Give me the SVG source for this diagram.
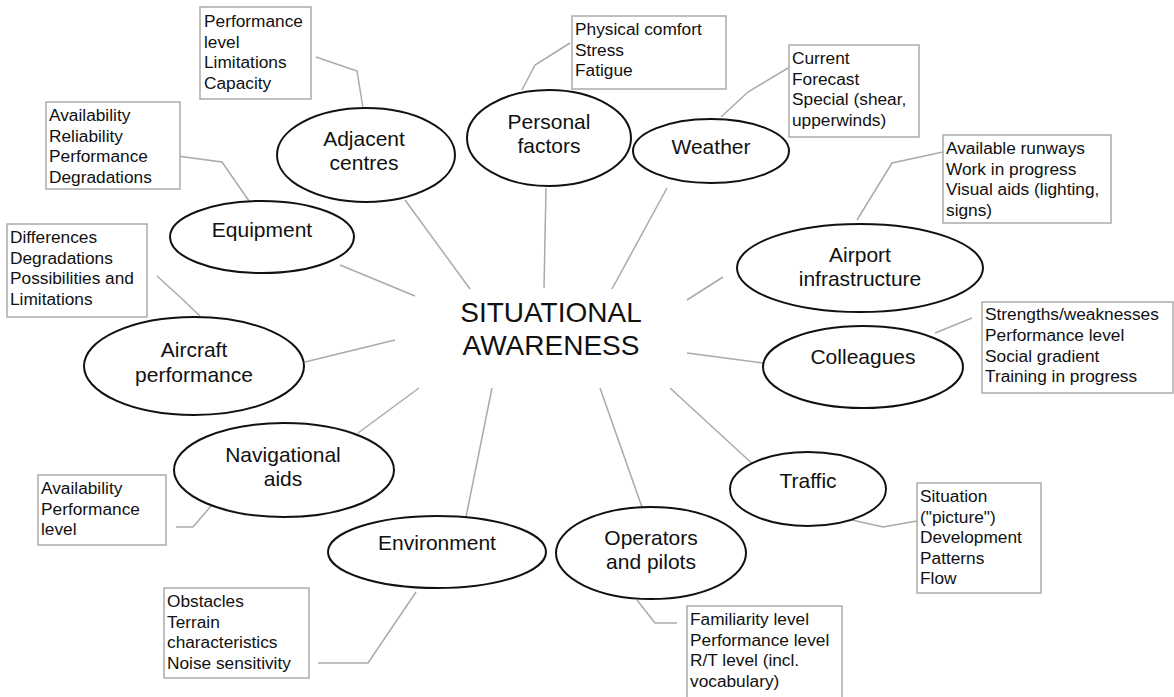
<svg xmlns="http://www.w3.org/2000/svg" width="1174" height="697" viewBox="0 0 1174 697">
<style>
.node ellipse{fill:#fff;stroke:#111;stroke-width:2}
.nt{font-family:"Liberation Sans",Arial,sans-serif;font-size:21px;fill:#111;text-anchor:middle}
.box rect{fill:#fff;stroke:#aaa;stroke-width:1.5}
.bt{font-family:"Liberation Sans",Arial,sans-serif;font-size:17.3px;fill:#111}
.conn line,.conn polyline{fill:none;stroke:#aaa;stroke-width:1.5}
.title{font-family:"Liberation Sans",Arial,sans-serif;font-size:28px;fill:#111;text-anchor:middle}
</style>
<rect width="1174" height="697" fill="#fff"/>
<g id="connectors" class="conn">
<line x1="405" y1="200" x2="470" y2="289"/>
<line x1="546" y1="188" x2="544" y2="288"/>
<line x1="667" y1="188" x2="612" y2="289"/>
<line x1="723" y1="277" x2="687" y2="300"/>
<line x1="687" y1="353" x2="763" y2="363"/>
<line x1="670" y1="388" x2="757" y2="468"/>
<line x1="600" y1="388" x2="643" y2="510"/>
<line x1="492" y1="388" x2="465" y2="522"/>
<line x1="419" y1="388" x2="358" y2="433"/>
<line x1="305" y1="362" x2="395" y2="340"/>
<line x1="340" y1="265" x2="415" y2="296"/>
<polyline points="316,57 357,71 363,108"/>
<polyline points="177,156 222,162 249,201"/>
<polyline points="157,276 180,297 200,316"/>
<polyline points="570,43 535,65 522,90"/>
<polyline points="788,68 748,92 721,117"/>
<polyline points="943,152 892,163 857,220"/>
<polyline points="972,318 935,333"/>
<polyline points="852,520 883,527 917,521"/>
<polyline points="637,600 655,623 677,623"/>
<polyline points="318,663 368,663 416,592"/>
<polyline points="176,527 193,527 211,506"/>
</g>
<g id="center">
<text class="title" x="551" y="322">SITUATIONAL</text>
<text class="title" x="551" y="355">AWARENESS</text>
</g>
<g id="adjacent" class="node"><ellipse cx="366" cy="155" rx="89" ry="47"/><text class="nt" x="364" y="146">Adjacent</text><text class="nt" x="364" y="170">centres</text></g>
<g id="personal" class="node"><ellipse cx="549" cy="138" rx="82" ry="48"/><text class="nt" x="549" y="129">Personal</text><text class="nt" x="549" y="153">factors</text></g>
<g id="weather" class="node"><ellipse cx="711" cy="151" rx="78" ry="32"/><text class="nt" x="711" y="154">Weather</text></g>
<g id="equipment" class="node"><ellipse cx="262" cy="237" rx="92" ry="36"/><text class="nt" x="262" y="237">Equipment</text></g>
<g id="airport" class="node"><ellipse cx="860" cy="268" rx="123" ry="44"/><text class="nt" x="860" y="262">Airport</text><text class="nt" x="860" y="286">infrastructure</text></g>
<g id="aircraft" class="node"><ellipse cx="194" cy="366" rx="110" ry="49"/><text class="nt" x="194" y="357">Aircraft</text><text class="nt" x="194" y="382">performance</text></g>
<g id="colleagues" class="node"><ellipse cx="863" cy="367" rx="100" ry="41"/><text class="nt" x="863" y="364">Colleagues</text></g>
<g id="navaids" class="node"><ellipse cx="284" cy="470" rx="110" ry="47"/><text class="nt" x="283" y="462">Navigational</text><text class="nt" x="283" y="486">aids</text></g>
<g id="traffic" class="node"><ellipse cx="808" cy="489" rx="78" ry="37"/><text class="nt" x="808" y="488">Traffic</text></g>
<g id="environment" class="node"><ellipse cx="437" cy="552" rx="109" ry="36"/><text class="nt" x="437" y="550">Environment</text></g>
<g id="operators" class="node"><ellipse cx="651" cy="553" rx="95" ry="46"/><text class="nt" x="651" y="545">Operators</text><text class="nt" x="651" y="569">and pilots</text></g>
<g id="box-adjacent" class="box"><rect x="200" y="7" width="111" height="92"/><text class="bt" x="204" y="27">Performance</text><text class="bt" x="204" y="47.5">level</text><text class="bt" x="204" y="68">Limitations</text><text class="bt" x="204" y="88.5">Capacity</text></g>
<g id="box-personal" class="box"><rect x="572" y="16" width="154" height="73"/><text class="bt" x="575" y="35">Physical comfort</text><text class="bt" x="575" y="55.5">Stress</text><text class="bt" x="575" y="76">Fatigue</text></g>
<g id="box-weather" class="box"><rect x="789" y="45" width="130" height="92"/><text class="bt" x="792" y="64">Current</text><text class="bt" x="792" y="84.5">Forecast</text><text class="bt" x="792" y="105">Special (shear,</text><text class="bt" x="792" y="125.5">upperwinds)</text></g>
<g id="box-equipment" class="box"><rect x="46" y="102" width="134" height="87"/><text class="bt" x="49" y="121">Availability</text><text class="bt" x="49" y="141.5">Reliability</text><text class="bt" x="49" y="162">Performance</text><text class="bt" x="49" y="182.5">Degradations</text></g>
<g id="box-airport" class="box"><rect x="943" y="135" width="168" height="88"/><text class="bt" x="946" y="154">Available runways</text><text class="bt" x="946" y="174.5">Work in progress</text><text class="bt" x="946" y="195">Visual aids (lighting,</text><text class="bt" x="946" y="215.5">signs)</text></g>
<g id="box-aircraft" class="box"><rect x="7" y="224" width="140" height="93"/><text class="bt" x="10" y="243">Differences</text><text class="bt" x="10" y="263.5">Degradations</text><text class="bt" x="10" y="284">Possibilities and</text><text class="bt" x="10" y="304.5">Limitations</text></g>
<g id="box-colleagues" class="box"><rect x="982" y="302" width="191" height="91"/><text class="bt" x="985" y="320">Strengths/weaknesses</text><text class="bt" x="985" y="341">Performance level</text><text class="bt" x="985" y="361.5">Social gradient</text><text class="bt" x="985" y="382">Training in progress</text></g>
<g id="box-navaids" class="box"><rect x="38" y="475" width="128" height="70"/><text class="bt" x="41" y="494">Availability</text><text class="bt" x="41" y="514.5">Performance</text><text class="bt" x="41" y="535">level</text></g>
<g id="box-traffic" class="box"><rect x="917" y="483" width="124" height="110"/><text class="bt" x="920" y="502">Situation</text><text class="bt" x="920" y="522.5">("picture")</text><text class="bt" x="920" y="543">Development</text><text class="bt" x="920" y="563.5">Patterns</text><text class="bt" x="920" y="584">Flow</text></g>
<g id="box-environment" class="box"><rect x="164" y="588" width="145" height="90"/><text class="bt" x="167" y="607">Obstacles</text><text class="bt" x="167" y="627.5">Terrain</text><text class="bt" x="167" y="648">characteristics</text><text class="bt" x="167" y="668.5">Noise sensitivity</text></g>
<g id="box-operators" class="box"><rect x="687" y="606" width="155" height="100"/><text class="bt" x="690" y="625">Familiarity level</text><text class="bt" x="690" y="645.5">Performance level</text><text class="bt" x="690" y="666">R/T level (incl.</text><text class="bt" x="690" y="686.5">vocabulary)</text></g>
</svg>
